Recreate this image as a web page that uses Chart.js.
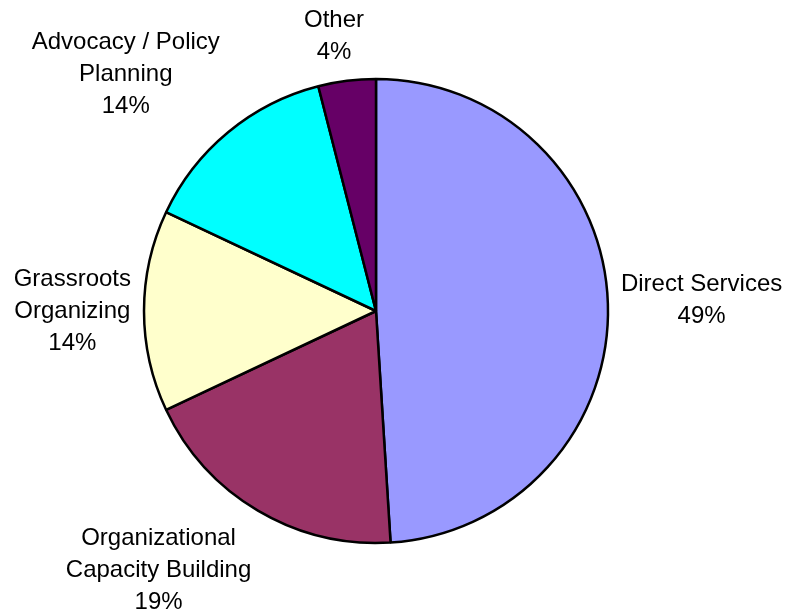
<!DOCTYPE html>
<html>
<head>
<meta charset="utf-8">
<script src="https://cdn.jsdelivr.net/npm/chart.js@4/dist/chart.umd.min.js"></script>
<style>
  html, body { margin: 0; padding: 0; background: #fff; }
  #wrap { width: 785px; height: 613px; }
</style>
</head>
<body>
<div id="wrap"><canvas id="pieChart"></canvas></div>
<script>
// Share of activity by area
const categories = [
    ['Direct Services'],
    ['Organizational', 'Capacity Building'],
    ['Grassroots', 'Organizing'],
    ['Advocacy / Policy', 'Planning'],
    ['Other']
];
const shares = [49, 19, 14, 14, 4];
const sliceColors = ['#9999FF', '#993366', '#FFFFCC', '#00FFFF', '#660066'];

// Draws each category name plus its percent just outside its slice
const outsideLabels = {
    id: 'outsideLabels',
    afterDatasetsDraw(chart) {
        const ctx = chart.ctx;
        const meta = chart.getDatasetMeta(0);
        const fontSize = 24;
        const lineH = 32;
        const gap = 13;
        const clamp = v => Math.max(-1, Math.min(1, v));

        ctx.save();
        ctx.font = fontSize + 'px "Liberation Sans", Arial, sans-serif';
        ctx.fillStyle = '#000';
        ctx.textAlign = 'center';
        ctx.textBaseline = 'middle';

        meta.data.forEach((arc, i) => {
            const { x, y, startAngle, endAngle, outerRadius } = arc.getProps(['x', 'y', 'startAngle', 'endAngle', 'outerRadius'], true);
            const mid = (startAngle + endAngle) / 2;
            const dx = Math.cos(mid), dy = Math.sin(mid);
            const px = x + (outerRadius + gap) * dx;
            const py = y + (outerRadius + gap) * dy;

            const lines = categories[i].concat([shares[i] + '%']);
            const w = Math.max(...lines.map(l => ctx.measureText(l).width));
            const h = lines.length * lineH;
            const cx = px + clamp(dx * 3) * w / 2;
            const cy = py + clamp(dy * 3) * h / 2;

            lines.forEach((line, j) => {
                ctx.fillText(line, cx, cy + (j - (lines.length - 1) / 2) * lineH);
            });
        });
        ctx.restore();
    }
};

new Chart(document.getElementById('pieChart'), {
    type: 'pie',
    data: {
        labels: categories.map(c => c.join(' ')),
        datasets: [{
            data: shares,
            backgroundColor: sliceColors,
            borderColor: '#000',
            borderWidth: 2.5,
            hoverOffset: 0
        }]
    },
    options: {
        responsive: true,
        maintainAspectRatio: false,
        animation: false,
        radius: 232,
        layout: { padding: { left: 0, right: 33, top: 9, bottom: 0 } },
        plugins: {
            legend: { display: false },
            tooltip: { enabled: false }
        }
    },
    plugins: [outsideLabels]
});
</script>
</body>
</html>
